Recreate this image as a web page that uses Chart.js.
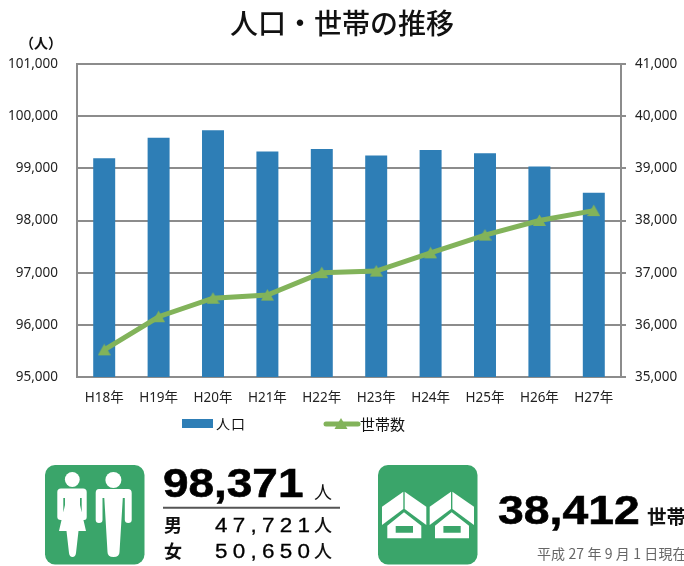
<!DOCTYPE html>
<html lang="ja"><head><meta charset="utf-8">
<script src="https://cdn.jsdelivr.net/npm/chart.js@4"></script>
<style>
html,body{margin:0;padding:0;background:#fff;width:684px;height:566px;overflow:hidden}
#wrap{position:relative;width:684px;height:566px;overflow:hidden;font-family:"Noto Sans CJK JP",sans-serif;color:#111}
canvas{position:absolute;left:0;top:0}
svg{position:absolute;left:0;top:0}
.t{position:absolute;white-space:nowrap;line-height:1}
.n{font-family:"Liberation Sans",sans-serif;font-weight:700}
.w{transform:scaleX(1.15);transform-origin:left;font-size:19.5px;letter-spacing:4.6px;font-weight:400;-webkit-text-stroke:.3px #000;color:#000}
</style></head><body>
<div id="wrap">
<canvas id="c" width="684" height="440"></canvas>
<svg width="684" height="566" viewBox="0 0 684 566">
 <rect x="45" y="465" width="99.5" height="99.5" rx="10" fill="#3aa56a"/>
 <g fill="#fff">
  <circle cx="72.3" cy="479.5" r="7.4"/>
  <circle cx="113.4" cy="480" r="8"/>
  <path d="M61 488.5H83Q86.7 488.5 86.7 492V517Q86.7 520 84.2 520Q81.7 520 81.7 517V498H80V505L86 531H78.5L76 553Q75.5 557 72.5 557Q69.5 557 69 553L66.5 531H59L65 505V498H63.3V517Q63.3 520 60.8 520Q57.3 520 57.3 517V492Q57.3 488.5 61 488.5Z"/>
  <path d="M99 489H128Q131.7 489 131.7 493V520Q131.7 523 128.2 523Q125 523 124.8 520V498H122.8L119.5 552Q119.5 557 113.5 557Q107.5 557 107.5 552L104.3 498H102.5V520Q102.5 523 99 523Q95.7 523 95.7 520V493Q95.7 489 99 489Z"/>
 </g>
 <rect x="378" y="465" width="99.5" height="99.5" rx="10" fill="#3aa56a"/>
 <g id="h1" fill="#fff">
  <path d="M403.3 491.7v17.3l-21.3 16v-18.3z"/>
  <path d="M404.7 491.7l21.6 15v18.3l-21.6-16z"/>
  <path fill-rule="evenodd" d="M404 512.3l17.3 13.4v12.6h-34v-12.6zM395.7 526v6.7h17.3V526z"/>
 </g>
 <use href="#h1" x="47.7"/>
 <line x1="163" y1="507.7" x2="340" y2="507.7" stroke="#555" stroke-width="2"/>
</svg>
<div class="t" id="title" style="left:230px;top:8px;font-size:28px;font-weight:500;color:#111"></div>
<div class="t" id="unit" style="left:20px;top:35px;font-size:14px;font-weight:700"></div>
<div class="t" id="legA" style="left:216px;top:416px;font-size:14px;letter-spacing:1px"></div>
<div class="t" id="legB" style="left:360px;top:416px;font-size:15px"></div>
<div class="t n" id="pop" style="left:163px;top:463px;font-size:41px;transform:scaleX(1.12);transform-origin:left;-webkit-text-stroke:.6px #000;color:#000"></div>
<div class="t" id="popU" style="left:314px;top:482px;font-size:18px"></div>
<div class="t" id="mL" style="left:164px;top:515px;font-size:18px;font-weight:700"></div>
<div class="t" id="fL" style="left:164px;top:541px;font-size:18px;font-weight:700"></div>
<div class="t n w" id="mV" style="left:215px;top:516px"></div>
<div class="t n w" id="fV" style="left:215px;top:542px"></div>
<div class="t" id="mU" style="left:314px;top:515px;font-size:18px;font-weight:500"></div>
<div class="t" id="fU" style="left:314px;top:541px;font-size:18px;font-weight:500"></div>
<div class="t n" id="hh" style="left:498px;top:490px;font-size:41px;transform:scaleX(1.13);transform-origin:left;-webkit-text-stroke:.6px #000;color:#000"></div>
<div class="t" id="hhU" style="left:647px;top:506px;font-size:19.5px;font-weight:700"></div>
<div class="t" id="date" style="left:537px;top:546px;font-size:14px;color:#666;letter-spacing:.1px"></div>
</div>
<script>
const categories=["H18年","H19年","H20年","H21年","H22年","H23年","H24年","H25年","H26年","H27年"];
const population=[99195,99585,99730,99325,99370,99245,99350,99290,99035,98530];
const households=[35520,36155,36510,36570,37000,37030,37380,37720,38000,38190];
const titleText="人口・世帯の推移";
const unitText="（人）";
const seriesNames=["人口","世帯数"];
const totals={pop:"98,371",popU:"人",mL:"男",mV:"47,721",mU:"人",fL:"女",fV:"50,650",fU:"人",hh:"38,412",hhU:"世帯",date:"平成 27 年 9 月 1 日現在"};
const barColor="#2e7eb6",lineColor="#82b35a",axisColor="#8c8c8c",tickColor="#222";
const tickFont={family:'"Noto Sans","Noto Sans CJK JP",sans-serif',size:13.5};

document.getElementById("title").textContent=titleText;
document.getElementById("unit").textContent=unitText;
document.getElementById("legA").textContent=seriesNames[0];
document.getElementById("legB").textContent=seriesNames[1];
Object.keys(totals).forEach(k=>document.getElementById(k).textContent=totals[k]);

const marker=document.createElement("canvas");marker.width=13;marker.height=13;
{const m=marker.getContext("2d");m.fillStyle=lineColor;m.beginPath();m.moveTo(6.5,.5);m.lineTo(13,12);m.lineTo(0,12);m.closePath();m.fill();}

const fmt=v=>Number(v).toLocaleString("en-US");
const legendPlugin={id:"legendMarks",afterDraw(ch){
  const x=ch.ctx;x.save();
  x.fillStyle=barColor;x.fillRect(182,419,31,9);
  x.strokeStyle=lineColor;x.lineWidth=5;x.lineCap="round";
  x.beginPath();x.moveTo(326,424);x.lineTo(358,424);x.stroke();
  x.fillStyle=lineColor;x.beginPath();x.moveTo(341,418);x.lineTo(347.5,429);x.lineTo(334.5,429);x.closePath();x.fill();
  x.restore();
}};
new Chart(document.getElementById("c"),{
  data:{labels:categories,datasets:[
    {type:"line",label:seriesNames[1],data:households,yAxisID:"y2",order:1,borderColor:lineColor,backgroundColor:lineColor,borderWidth:5,pointStyle:marker,pointRadius:7,tension:0},
    {type:"bar",label:seriesNames[0],data:population,yAxisID:"y",order:2,backgroundColor:barColor,borderWidth:0,barPercentage:.404,categoryPercentage:1}
  ]},
  options:{responsive:false,animation:false,
    layout:{padding:{top:64,left:0,right:0,bottom:0}},
    plugins:{legend:{display:false},tooltip:{enabled:false}},
    scales:{
      x:{grid:{display:false,drawTicks:false},border:{color:axisColor,width:2},
        ticks:{font:tickFont,color:tickColor,padding:13,maxRotation:0},
        afterFit(s){s.height=63}},
      y:{position:"left",min:95000,max:101000,
        grid:{color:axisColor,lineWidth:2,drawTicks:false},border:{color:axisColor,width:2},
        ticks:{stepSize:1000,font:tickFont,color:tickColor,padding:19,callback:fmt},
        afterFit(s){s.width=77}},
      y2:{position:"right",min:35000,max:41000,
        grid:{drawOnChartArea:false,color:axisColor,lineWidth:2,tickLength:5},border:{color:axisColor,width:2},
        ticks:{stepSize:1000,font:tickFont,color:tickColor,padding:9,callback:fmt},
        afterFit(s){s.width=63}}
    }},
  plugins:[legendPlugin]
});
</script>
</body></html>
